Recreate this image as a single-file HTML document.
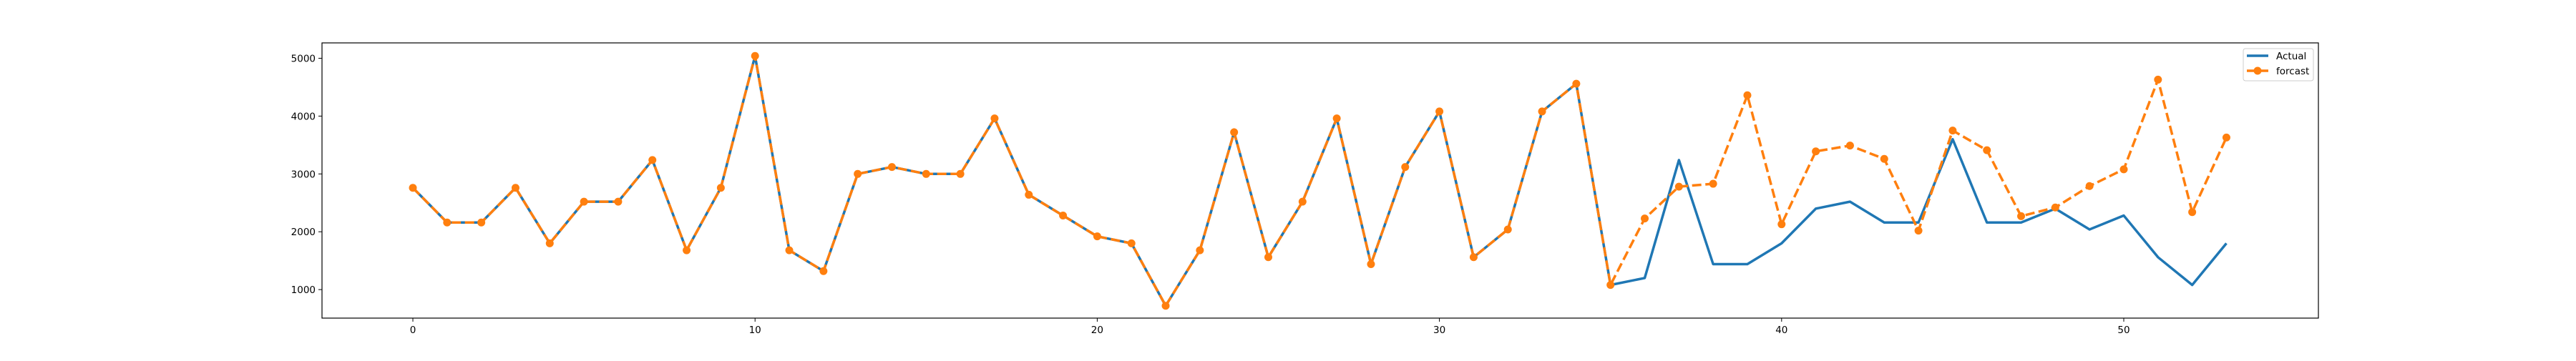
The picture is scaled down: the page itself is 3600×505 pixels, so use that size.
<!DOCTYPE html>
<html><head><meta charset="utf-8"><style>
body{margin:0;background:#fff}
svg text{font-family:"DejaVu Sans","Liberation Sans",sans-serif;font-size:13.5px;fill:#000}
</style></head><body>
<svg id="chart" width="3600" height="500" xmlns="http://www.w3.org/2000/svg">
<rect width="3600" height="500" fill="#fff"/>
<g id="plot"></g>
<rect x="450" y="60" width="2790" height="385" fill="none" stroke="#000" stroke-width="1.2"/>
<g>
<rect x="3135" y="68" width="98" height="45" rx="3" fill="#fff" fill-opacity="0.8" stroke="#ccc"/>
<line x1="3140" y1="78" x2="3170" y2="78" stroke="#1f77b4" stroke-width="3.5"/>
<text x="3181" y="83">Actual</text>
<line x1="3140" y1="99" x2="3170" y2="99" stroke="#ff7f0e" stroke-width="3.5" stroke-dasharray="13,5.6"/>
<circle cx="3155" cy="99" r="5.5" fill="#ff7f0e"/>
<text x="3181" y="104">forcast</text>
</g>
</svg>
<script>
const common=[2760,2160,2160,2760,1800,2520,2520,3240,1680,2760,5040,1680,1320,3000,3120,3000,3000,3960,2640,2280,1920,1800,720,1680,3720,1560,2520,3960,1440,3120,4080,1560,2040,4080,4560];
const actualTail=[1080,1200,3240,1440,1440,1800,2400,2520,2160,2160,3600,2160,2160,2400,2040,2280,1560,1080,1800];
const forcastTail=[1080,2230,2780,2830,4360,2130,3390,3490,3260,2020,3750,3410,2270,2420,2790,3080,4630,2340,3630];
const actual=common.concat(actualTail);
const forcast=common.concat(forcastTail);
const xTicks=[0,10,20,30,40,50];
const yTicks=[1000,2000,3000,4000,5000];
const NS="http://www.w3.org/2000/svg";
const X=v=>577+v*47.82;
const Y=v=>486-v*0.0809;
const g=document.getElementById('plot');
function mk(t,a){const e=document.createElementNS(NS,t);for(const k in a)e.setAttribute(k,a[k]);g.appendChild(e);return e;}
xTicks.forEach(t=>{
 const l=mk('line',{x1:X(t),x2:X(t),y1:445,y2:450,stroke:'#000'});
 
 
 const tx=mk('text',{x:X(t),y:466,'text-anchor':'middle'});tx.textContent=t;
 
 
});
yTicks.forEach(t=>{
 const l=mk('line',{x1:445,x2:450,y1:Y(t),y2:Y(t),stroke:'#000'});
 
 
 const tx=mk('text',{x:441,y:Y(t)+5,'text-anchor':'end'});tx.textContent=t;
 
 
});
const pa=actual.map((v,i)=>X(i)+','+Y(v)).join(' ');
const la=mk('polyline',{points:pa,fill:'none',stroke:'#1f77b4','stroke-width':3.5,'stroke-linejoin':'round'});


const pf=forcast.map((v,i)=>X(i)+','+Y(v)).join(' ');
const lf=mk('polyline',{points:pf,fill:'none',stroke:'#ff7f0e','stroke-width':3.5,'stroke-dasharray':'13,5.6'});


forcast.forEach((v,i)=>{
 const c=mk('circle',{cx:X(i),cy:Y(v),r:5.5,fill:'#ff7f0e'});
 
 
});
</script>
</body></html>
